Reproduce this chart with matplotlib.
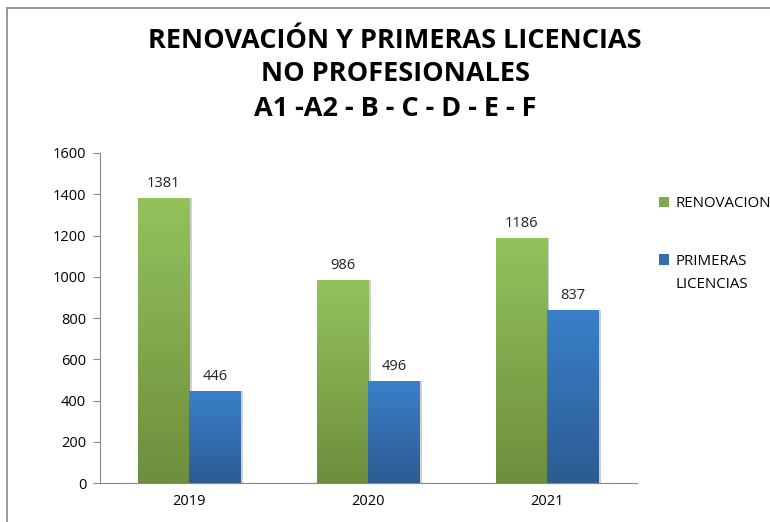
import numpy as np
import matplotlib.pyplot as plt
from matplotlib.lines import Line2D
from matplotlib.colors import LinearSegmentedColormap

years = ['2019', '2020', '2021']
renovacion = [1381, 986, 1186]
primeras = [446, 496, 837]

plt.rcParams['font.family'] = ['Open Sans', 'DejaVu Sans']

fig = plt.figure(figsize=(7.7, 5.22), dpi=100)
ax = fig.add_axes([0.1299, 0.0747, 0.827 - 0.1299, 0.7069 - 0.0747])

x = np.arange(len(years))
w = 0.287

green_cmap = LinearSegmentedColormap.from_list('g', ['#6E8E3D', '#93C25C'])
blue_cmap = LinearSegmentedColormap.from_list('b', ['#2D5B92', '#3A80CA'])
grad = np.linspace(0, 1, 256).reshape(-1, 1)


def gradient_bars(xs, vals, cmap, label):
    # light shadow on the right side
    ax.bar(xs + 0.012, vals, w, color='#d0d0d0', zorder=1, align='center')
    bars = ax.bar(xs, vals, w, color=cmap(0.5), label=label, zorder=2)
    for b in bars:
        im = ax.imshow(grad, cmap=cmap, origin='lower', aspect='auto',
                       extent=[b.get_x(), b.get_x() + b.get_width(), 0, b.get_height()],
                       zorder=3)
        im.set_clip_path(b)
    ax.bar_label(bars, padding=5, fontsize=10.5, color='#222222')
    return bars


gradient_bars(x - w / 2, renovacion, green_cmap, 'RENOVACION')
gradient_bars(x + w / 2, primeras, blue_cmap, 'PRIMERAS')

ax.set_xlim(-0.5, 2.5)
ax.set_ylim(0, 1600)
ax.set_yticks(range(0, 1601, 200))
ax.set_xticks(x)
ax.set_xticklabels(years)
ax.tick_params(axis='y', length=5, color='#888888', labelsize=10.5, pad=5)
ax.tick_params(axis='x', length=0, labelsize=10.5, pad=8)
for s in ['top', 'right']:
    ax.spines[s].set_visible(False)
for s in ['left', 'bottom']:
    ax.spines[s].set_color('#888888')

handles, labels = ax.get_legend_handles_labels()
leg = fig.legend(handles, labels, loc='upper left', bbox_to_anchor=(0.838, 0.65),
                 frameon=False, fontsize=10.8, handlelength=0.7, handleheight=0.7,
                 handletextpad=0.4, labelspacing=2.85)

# second line of the blue entry, placed under "PRIMERAS"
fig.canvas.draw()
bb = leg.get_texts()[1].get_window_extent().transformed(fig.transFigure.inverted())
fig.text(bb.x0, bb.y0 - 0.045, 'LICENCIAS', fontsize=10.8, ha='left', va='bottom')

fig.text(0.513, 0.922, 'RENOVACIÓN Y PRIMERAS LICENCIAS', ha='center', va='center',
         fontsize=19.5, fontweight='bold')
fig.text(0.513, 0.858, 'NO PROFESIONALES', ha='center', va='center',
         fontsize=19.5, fontweight='bold')
fig.text(0.513, 0.792, 'A1 -A2 - B - C - D - E - F', ha='center', va='center',
         fontsize=19.5, fontweight='bold')

# outer frame (top and left edges visible)
fig.add_artist(Line2D([7 / 770, 1], [1 - 8 / 522, 1 - 8 / 522], color='#888888', lw=1.2))
fig.add_artist(Line2D([7 / 770, 7 / 770], [0, 1 - 8 / 522], color='#888888', lw=1.2))

fig.savefig('out.png', dpi=100)
